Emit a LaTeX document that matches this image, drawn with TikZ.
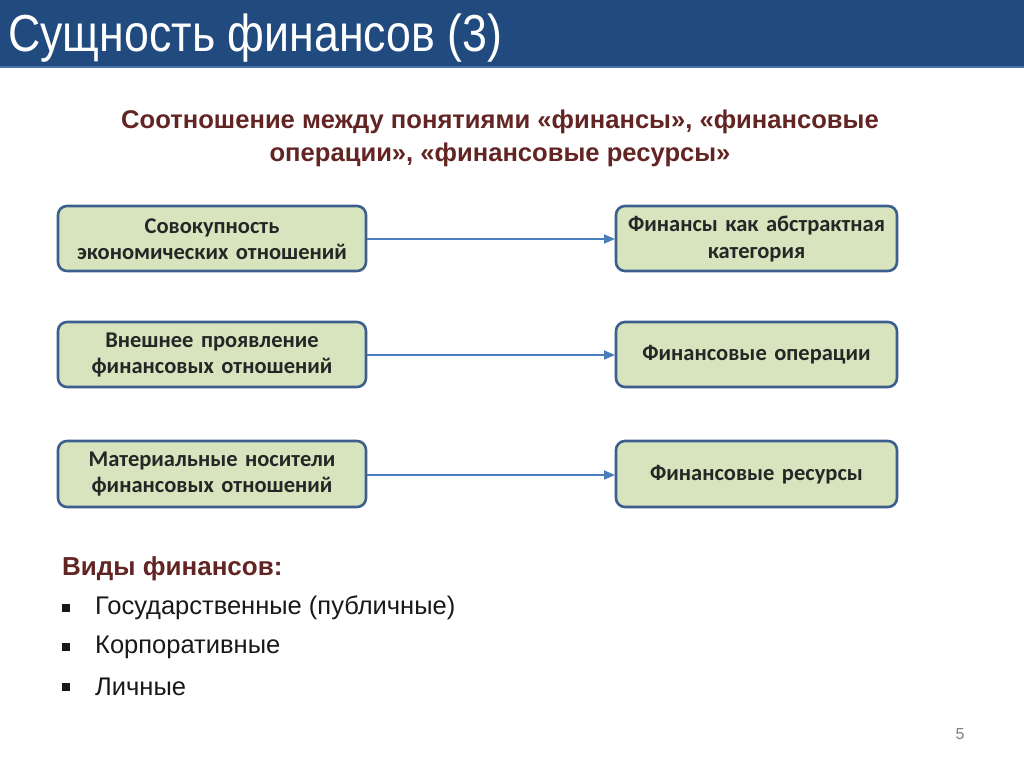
\documentclass[tikz,border=0pt]{standalone}
\usepackage{fontspec}
\setmainfont{Liberation Sans}
\newfontfamily\titlefont[FakeStretch=0.86]{Liberation Sans}
\newfontfamily\boxfont{Carlito}
\usetikzlibrary{arrows.meta}
\definecolor{barblue}{HTML}{214A7E}
\definecolor{barline}{HTML}{4A72A8}
\definecolor{headred}{HTML}{632523}
\definecolor{boxfill}{HTML}{D7E4BD}
\definecolor{boxedge}{HTML}{3D5F8D}
\definecolor{arrblue}{HTML}{4A7EBB}
\tikzset{
  x=1pt,y=-1pt,
  fbox/.style={draw=boxedge,line width=2.6pt,fill=boxfill,rounded corners=9pt},
  btext/.style={text width=#1,align=center,inner sep=0pt,font=\boxfont\bfseries\fontsize{22.5}{26.5}\selectfont,text=black!85},
  conn/.style={draw=arrblue,line width=1.8pt,-{Triangle[length=11pt,width=9pt]}},
  bul/.style={anchor=west,font=\fontsize{25.5}{28}\selectfont,text=black!90},
}
\begin{document}
\begin{tikzpicture}
\useasboundingbox (0,0) rectangle (1024,767);
\fill[white] (0,0) rectangle (1024,767);
\fill[barblue] (0,0) rectangle (1024,66);
\fill[barline] (0,66) rectangle (1024,68);
\node[anchor=west,text=white,font=\titlefont\fontsize{52}{58}\selectfont,inner sep=0pt] (title) at (8,38) {Сущность финансов (3)};
\node[align=center,text=headred,font=\bfseries\fontsize{25.6}{33}\selectfont,inner sep=0pt] (head) at (500,138)
  {Соотношение между понятиями «финансы», «финансовые\\операции», «финансовые ресурсы»};
% left boxes
\path[fbox] (58,206) rectangle (366,271);
\node[btext=300pt] (l1) at (212,239) {Совокупность\\экономических отношений};
\path[fbox] (58,322) rectangle (366,387);
\node[btext=300pt] (l2) at (212,355) {Внешнее проявление\\финансовых отношений};
\path[fbox] (58,441) rectangle (366,507);
\node[btext=300pt] (l3) at (212,474) {Материальные носители\\финансовых отношений};
% right boxes
\path[fbox] (616,206) rectangle (897,271);
\node[btext=280pt] (r1) at (756.5,239) {Финансы как абстрактная\\категория};
\path[fbox] (616,322) rectangle (897,387);
\node[btext=280pt] (r2) at (756.5,355) {Финансовые операции};
\path[fbox] (616,441) rectangle (897,507);
\node[btext=280pt] (r3) at (756.5,475) {Финансовые ресурсы};
\coordinate (a1s) at (367,239); \coordinate (a1e) at (615,239);
\coordinate (a2s) at (367,355); \coordinate (a2e) at (615,355);
\coordinate (a3s) at (367,475); \coordinate (a3e) at (615,475);
\draw[conn] (a1s) -- (a1e);
\draw[conn] (a2s) -- (a2e);
\draw[conn] (a3s) -- (a3e);
% types
\node[anchor=west,text=headred,font=\bfseries\fontsize{26}{28}\selectfont,inner sep=0pt] (vid) at (62,569) {Виды финансов:};
\foreach \y/\t/\n in {608/Государственные (публичные)/b1,647/Корпоративные/b2,687/Личные/b3}{
  \fill[black!90] (62,\y-4) rectangle (70,\y+4);
  \node[bul,inner sep=0pt] (\n) at (95,\y) {\t};
}
\node[text=black!50,font=\fontsize{16}{18}\selectfont,inner sep=0pt] (pg) at (960,734) {5};
\end{tikzpicture}
\end{document}
